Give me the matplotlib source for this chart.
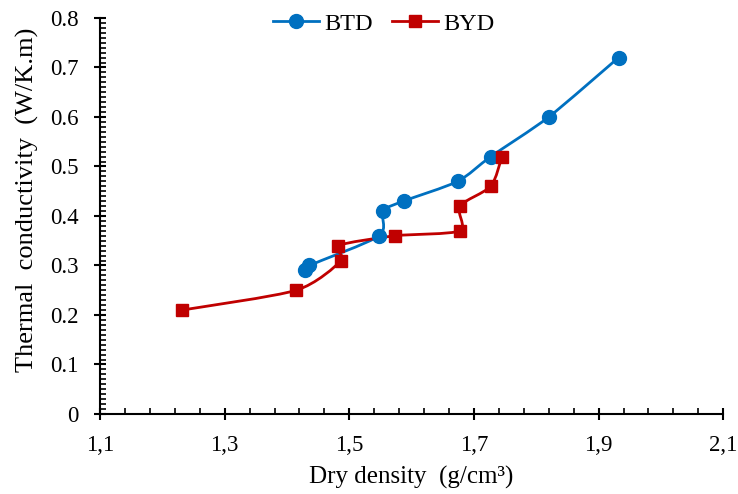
import numpy as np
import matplotlib
matplotlib.use("Agg")
import matplotlib.pyplot as plt
from matplotlib.path import Path
from matplotlib.patches import PathPatch
from matplotlib.ticker import FixedLocator, MultipleLocator, FuncFormatter

# BTD series
btd_density = [1.429, 1.436, 1.548, 1.554, 1.587, 1.674, 1.727, 1.820, 1.932]
btd_conductivity = [0.29, 0.30, 0.36, 0.41, 0.43, 0.47, 0.52, 0.60, 0.72]

# BYD series
byd_density = [1.232, 1.415, 1.487, 1.482, 1.573, 1.677, 1.677, 1.727, 1.745]
byd_conductivity = [0.21, 0.25, 0.31, 0.34, 0.36, 0.37, 0.42, 0.46, 0.52]

x_ticks = [1.1, 1.3, 1.5, 1.7, 1.9, 2.1]
x_tick_labels = ['1,1', '1,3', '1,5', '1,7', '1,9', '2,1']

plt.rcParams['font.family'] = ['Liberation Serif', 'DejaVu Serif']


def smooth_path(xs, ys, k=6.0):
    """Bezier path through the points, similar to Excel's smoothed line."""
    pts = np.column_stack([xs, ys])
    verts = [pts[0]]
    codes = [Path.MOVETO]
    n = len(pts)
    for i in range(n - 1):
        p0 = pts[i - 1] if i > 0 else pts[i]
        p1 = pts[i]
        p2 = pts[i + 1]
        p3 = pts[i + 2] if i + 2 < n else pts[i + 1]
        c1 = p1 + (p2 - p0) / k
        c2 = p2 - (p3 - p1) / k
        verts += [c1, c2, p2]
        codes += [Path.CURVE4] * 3
    return Path(verts, codes)


fig = plt.figure(figsize=(7.38, 4.94), dpi=100)
ax = fig.add_axes([0.1355, 0.162, 0.8445, 0.8016])

series = [
    (btd_density, btd_conductivity, '#0070C0', 'o', 10, 'BTD'),
    (byd_density, byd_conductivity, '#C00000', 's', 9, 'BYD'),
]
for xs, ys, color, marker, ms, label in series:
    ax.add_patch(PathPatch(smooth_path(xs, ys, 8.0), facecolor='none',
                           edgecolor=color, linewidth=2.0, zorder=2))
    ax.plot(xs, ys, linestyle='none', marker=marker, markersize=ms,
            color=color, zorder=3)
    # legend handle
    ax.plot([], [], '-', color=color, linewidth=2.0, marker=marker,
            markersize=ms, label=label)

ax.set_xlim(1.1, 2.1)
ax.set_ylim(0, 0.8)
ax.xaxis.set_major_locator(FixedLocator(x_ticks))
ax.set_xticklabels(x_tick_labels)
ax.xaxis.set_minor_locator(FixedLocator(np.arange(1.1, 2.1001, 0.04)))
ax.yaxis.set_major_locator(MultipleLocator(0.1))
ax.yaxis.set_minor_locator(MultipleLocator(0.01))
ax.yaxis.set_major_formatter(FuncFormatter(lambda v, p: '0' if abs(v) < 1e-9 else f"{v:.1f}"))

for side in ['top', 'right']:
    ax.spines[side].set_visible(False)
for side in ['left', 'bottom']:
    ax.spines[side].set_linewidth(1.5)

ax.tick_params(which='major', direction='inout', length=9, width=1.5,
               labelsize=16.5, pad=11)
ax.tick_params(which='minor', direction='in', length=4, width=1.2)

ax.set_xlabel("Dry density  (g/cm³)", fontsize=18, labelpad=7)
ax.set_ylabel("Thermal  conductivity  (W/K.m)", fontsize=19, labelpad=5)
ax.yaxis.set_label_coords(-0.098, 0.54)

ax.legend(loc='center', bbox_to_anchor=(0.455, 0.985), ncol=2, frameon=False,
          fontsize=17.5, handlelength=1.9, handletextpad=0.2, columnspacing=0.8)

fig.savefig('out.png', dpi=100)
